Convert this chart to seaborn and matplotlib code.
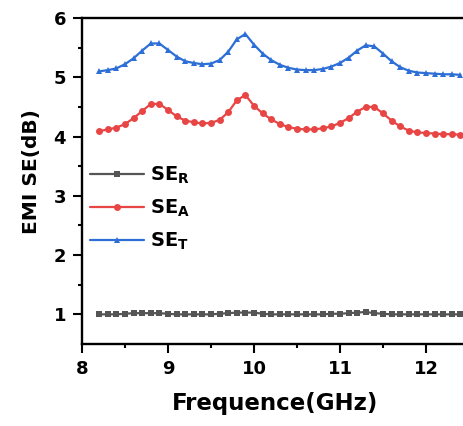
import numpy as np
import pandas as pd
import seaborn as sns
import matplotlib
matplotlib.use("Agg")
import matplotlib.pyplot as plt

# Frequency points (X band, GHz)
freq = np.round(np.arange(8.2, 12.41, 0.1), 1)

se_r = [1.00, 1.00, 1.00, 1.01, 1.02, 1.02, 1.02, 1.02, 1.01, 1.00,
        1.00, 1.00, 1.00, 1.00, 1.01, 1.02, 1.03, 1.03, 1.03, 1.01,
        1.00, 1.00, 1.00, 1.00, 1.00, 1.00, 1.00, 1.01, 1.01, 1.02,
        1.03, 1.04, 1.02, 1.01, 1.00, 1.00, 1.00, 1.00, 1.00, 1.00,
        1.00, 1.00, 1.00]

se_a = [4.09, 4.12, 4.15, 4.21, 4.31, 4.43, 4.55, 4.55, 4.45, 4.34,
        4.27, 4.24, 4.22, 4.23, 4.28, 4.41, 4.61, 4.70, 4.52, 4.39,
        4.29, 4.21, 4.16, 4.13, 4.12, 4.12, 4.14, 4.17, 4.23, 4.31,
        4.42, 4.50, 4.50, 4.39, 4.27, 4.17, 4.10, 4.07, 4.06, 4.05,
        4.04, 4.04, 4.03]

se_t = [5.10, 5.12, 5.15, 5.22, 5.32, 5.45, 5.57, 5.57, 5.46, 5.35,
        5.27, 5.24, 5.22, 5.23, 5.29, 5.43, 5.64, 5.73, 5.55, 5.40,
        5.29, 5.21, 5.16, 5.13, 5.12, 5.12, 5.14, 5.18, 5.24, 5.33,
        5.45, 5.54, 5.52, 5.40, 5.27, 5.17, 5.11, 5.08, 5.07, 5.06,
        5.05, 5.05, 5.04]

labels = [r"$\mathbf{SE}_\mathbf{R}$", r"$\mathbf{SE}_\mathbf{A}$", r"$\mathbf{SE}_\mathbf{T}$"]
colors = ["#555555", "#e84545", "#2d6fd6"]
markers = ["s", "o", "^"]

df = pd.DataFrame({"freq": freq, "SE_R": se_r, "SE_A": se_a, "SE_T": se_t})

sns.set_style("ticks")
plt.rcParams["font.family"] = ["DejaVu Sans"]
plt.rcParams["font.weight"] = "bold"
plt.rcParams["mathtext.fontset"] = "dejavusans"
plt.rcParams["text.color"] = "black"
plt.rcParams["axes.labelcolor"] = "black"
plt.rcParams["xtick.color"] = "black"
plt.rcParams["ytick.color"] = "black"
plt.rcParams["axes.edgecolor"] = "black"

fig = plt.figure(figsize=(4.64, 4.26), dpi=100)
ax = fig.add_axes([0.1767, 0.1925, 0.834, 0.7653])

for col, lab, c, m in zip(["SE_R", "SE_A", "SE_T"], labels, colors, markers):
    sns.lineplot(data=df, x="freq", y=col, ax=ax, color=c, marker=m,
                 markersize=5 if m != "s" else 4.2, markeredgewidth=0,
                 linewidth=1.6, label=lab)

ax.set_xlim(8, 12.5)
ax.set_ylim(0.5, 6)
ax.set_xticks([8, 9, 10, 11, 12])
ax.set_xticks(np.arange(8.5, 12.6, 1), minor=True)
ax.set_yticks([1, 2, 3, 4, 5, 6])
ax.set_yticks(np.arange(1.5, 6, 1), minor=True)

for s in ax.spines.values():
    s.set_linewidth(1.7)
    s.set_color("black")
ax.spines["right"].set_visible(False)
ax.tick_params(which="major", direction="out", length=6.5, width=1.5,
               labelsize=13, pad=5, colors="black")
ax.tick_params(which="minor", direction="out", length=3.2, width=1.5, colors="black")
ax.tick_params(top=False, right=False, which="both")
for t in ax.get_xticklabels() + ax.get_yticklabels():
    t.set_fontweight("bold")

ax.set_xlabel("Frequence(GHz)", fontsize=16.5, fontweight="bold", labelpad=10)
ax.set_ylabel("EMI SE(dB)", fontsize=14.5, fontweight="bold")
ax.yaxis.set_label_coords(-0.105, 0.53)

ax.legend(loc="upper left", bbox_to_anchor=(0.0, 0.575), frameon=False,
          fontsize=14, handlelength=2.8, handletextpad=0.3,
          labelspacing=0.62, borderaxespad=0)

fig.savefig("out.png", dpi=100)
